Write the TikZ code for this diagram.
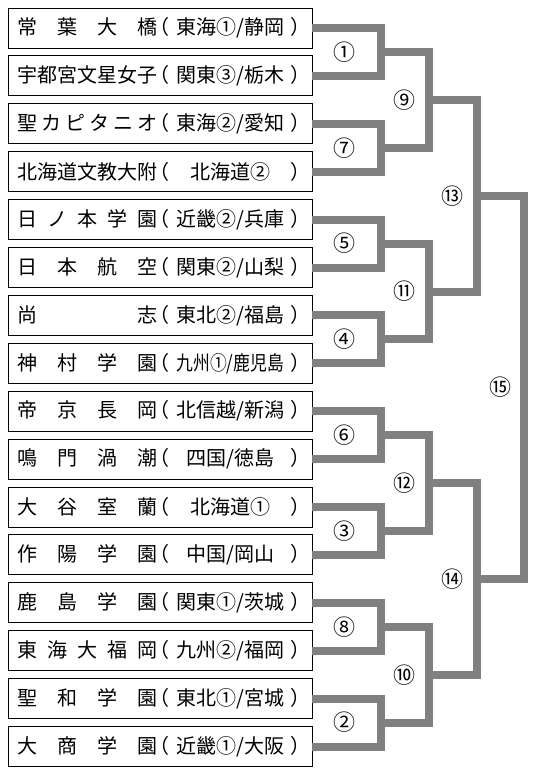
\documentclass[tikz,border=0pt]{standalone}
\usepackage{fontspec}
\setmainfont{Noto Sans CJK JP}
\usetikzlibrary{positioning}
\definecolor{brkGray}{HTML}{808080}
\definecolor{brkInk}{HTML}{000000}
\tikzset{
  brk box/.style={draw=brkInk, line width=0.9pt, fill=white, minimum width=304pt, minimum height=40pt, inner sep=0pt},
  brk line/.style={draw=brkGray, line width=8pt, line join=miter},
  brk name/.style={font=\fontsize{20pt}{22pt}\selectfont, text=brkInk, inner sep=0pt},
  brk num/.style={font=\fontsize{22pt}{24pt}\selectfont, text=brkInk, inner sep=0pt},
}
\newcommand\brkentry[2]{\makebox[7em][s]{#1}\kern-0.4em（\makebox[6.05em]{#2}）}

\begin{document}
\begin{tikzpicture}[x=1pt,y=-1pt]
  \useasboundingbox (0,0) rectangle (537,776);
  \foreach \i/\nm/\rg in {
      1/{常\hfil 葉\hfil 大\hfil 橋}/{東海①/静岡},
      2/{宇都宮文星女子}/{関東③/栃木},
      3/{聖\hfil カ\hfil ピ\hfil タ\hfil ニ\hfil オ}/{東海②/愛知},
      4/{北海道文教大附}/{北海道②},
      5/{日\hfil ノ\hfil 本\hfil 学\hfil 園}/{近畿②/兵庫},
      6/{日\hfil 本\hfil 航\hfil 空}/{関東②/山梨},
      7/{尚\hfil 志}/{東北②/福島},
      8/{神\hfil 村\hfil 学\hfil 園}/{\scalebox{0.84}[1]{九州①/鹿児島}},
      9/{帝\hfil 京\hfil 長\hfil 岡}/{北信越/新潟},
      10/{鳴\hfil 門\hfil 渦\hfil 潮}/{四国/徳島},
      11/{大\hfil 谷\hfil 室\hfil 蘭}/{北海道①},
      12/{作\hfil 陽\hfil 学\hfil 園}/{中国/岡山},
      13/{鹿\hfil 島\hfil 学\hfil 園}/{関東①/茨城},
      14/{東\hfil 海\hfil 大\hfil 福\hfil 岡}/{九州②/福岡},
      15/{聖\hfil 和\hfil 学\hfil 園}/{東北①/宮城},
      16/{大\hfil 商\hfil 学\hfil 園}/{近畿①/大阪}} {
    \node[brk box] (t\i) at (160,{28+47.9*(\i-1)}) {};
    \node[brk name, right=10pt of t\i.west] (n\i) {\brkentry{\nm}{\rg}};
  }
  \foreach \k in {1,...,8}
    \coordinate (ra\k) at (381,{52+95.8*(\k-1)});
  \foreach \k in {1,...,4}
    \coordinate (rb\k) at (428.5,{100+191.6*(\k-1)});
  \coordinate (rc1) at (476.5,196);
  \coordinate (rc2) at (476.5,579.2);
  \coordinate (rd) at (524,387.6);
  \foreach \k in {1,...,8} {
    \pgfmathtruncatemacro\ta{2*\k-1}
    \pgfmathtruncatemacro\tb{2*\k}
    \draw[brk line] (t\ta.east) -| (ra\k) |- (t\tb.east);
  }
  \foreach \k in {1,...,4} {
    \pgfmathtruncatemacro\ta{2*\k-1}
    \pgfmathtruncatemacro\tb{2*\k}
    \draw[brk line] (ra\ta) -| (rb\k) |- (ra\tb);
  }
  \draw[brk line] (rb1) -| (rc1) |- (rb2);
  \draw[brk line] (rb3) -| (rc2) |- (rb4);
  \draw[brk line] (rc1) -| (rd) |- (rc2);
  \foreach \k/\lab in {1/①,2/⑦,3/⑤,4/④,5/⑥,6/③,7/⑧,8/②}
    \node[brk num] (la\k) at (344,{52+95.8*(\k-1)}) {\lab};
  \foreach \k/\lab in {1/⑨,2/⑪,3/⑫,4/⑩}
    \node[brk num] (lb\k) at (404,{100+191.6*(\k-1)}) {\lab};
  \node[brk num] (lc1) at (452,196) {⑬};
  \node[brk num] (lc2) at (452,579.2) {⑭};
  \node[brk num] (ld) at (500,387.6) {⑮};
\end{tikzpicture}
\end{document}
